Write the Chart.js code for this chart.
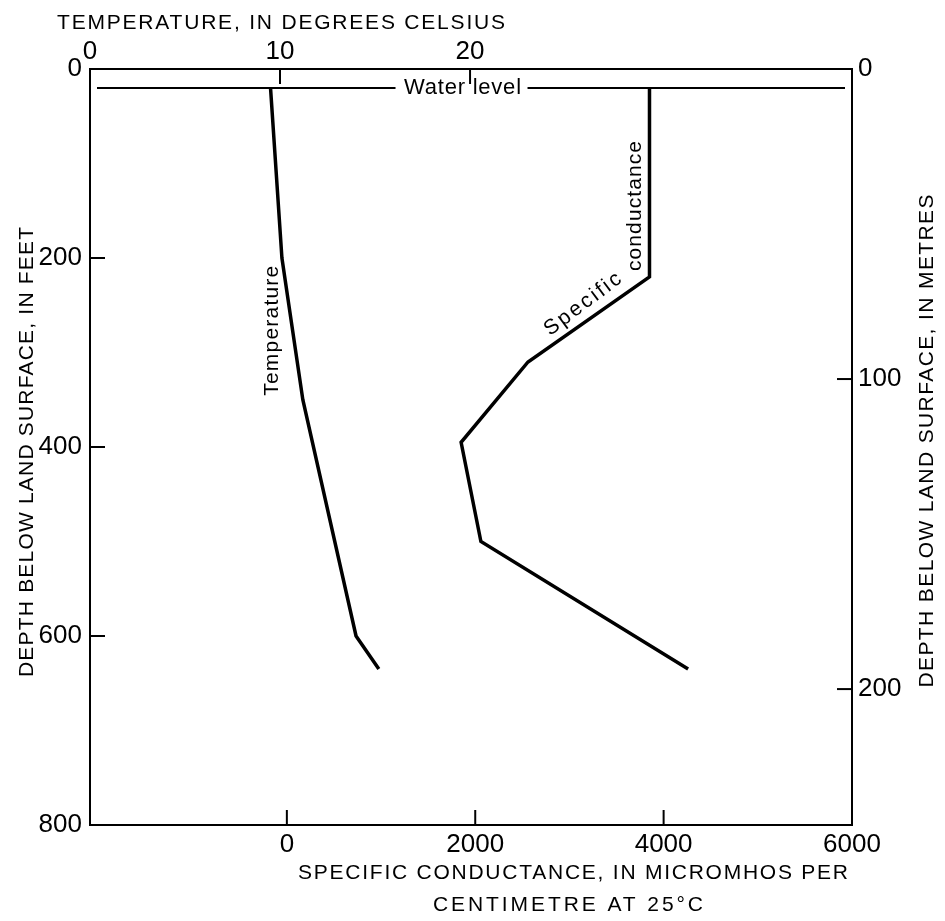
<!DOCTYPE html>
<html>
<head>
<meta charset="utf-8">
<title>Temperature and specific conductance profile</title>
<script src="https://cdn.jsdelivr.net/npm/chart.js@4.4.1/dist/chart.umd.min.js"></script>
<style>
  html, body { margin: 0; padding: 0; background: #fff; }
  #wrap { width: 945px; height: 921px; position: relative; }
</style>
</head>
<body>
<div id="wrap"><canvas id="profileChart"></canvas></div>
<script>
// profile values (depth in feet below land surface)
const tempDepthFt = [20, 200, 350, 600, 635];
const tempCelsius = [9.5, 10.1, 11.2, 14.0, 15.2];
const condDepthFt = [20, 220, 310, 395, 500, 635];
const condMicromhos = [3850, 3850, 2560, 1850, 2060, 4260];
const waterLevelFt = 20;

// tick labels
const feetTicks = [0, 200, 400, 600, 800];
const metreTicks = [0, 100, 200];
const celsiusTicks = [0, 10, 20];
const condTicks = [0, 2000, 4000, 6000];

const FT_TO_M = 0.3048;
const FONT = "'Liberation Sans', Arial, sans-serif";

// text with letter spacing stretched to a given width, centred on x,y
function spacedText(ctx, text, x, y, angle, width, size) {
	ctx.save();
	ctx.translate(x, y);
	ctx.rotate(angle);
	ctx.font = size + 'px ' + FONT;
	ctx.textBaseline = 'middle';
	ctx.textAlign = 'left';
	const natural = ctx.measureText(text).width;
	let sp = 0;
	if ('letterSpacing' in ctx && text.length > 1) {
		sp = (width - natural) / (text.length - 1);
		ctx.letterSpacing = sp + 'px';
	}
	const w = natural + sp * (text.length - 1);
	ctx.fillText(text, -w / 2, 0);
	ctx.restore();
}

// little tick marks pointing into the plot, like the original
function innerTicks(ctx, scale, area, side) {
	const len = 15;
	scale.ticks.forEach(t => {
		const p = scale.getPixelForValue(t.value);
		ctx.beginPath();
		if (side === 'left' || side === 'right') {
			if (p < area.top + 2 || p > area.bottom - 2) return;
			const x0 = side === 'left' ? area.left : area.right - len;
			ctx.moveTo(x0, p);
			ctx.lineTo(x0 + len, p);
		} else {
			if (p < area.left + 2 || p > area.right - 2) return;
			const y0 = side === 'top' ? area.top : area.bottom - len;
			ctx.moveTo(p, y0);
			ctx.lineTo(p, y0 + len);
		}
		ctx.stroke();
	});
}

const profilePlugin = {
	id: 'profileDecor',
	afterDatasetsDraw(chart) {
		const {ctx, chartArea: a, scales} = chart;
		ctx.save();
		ctx.strokeStyle = '#000';
		ctx.fillStyle = '#000';
		ctx.lineWidth = 2;
		innerTicks(ctx, scales.y, a, 'left');
		innerTicks(ctx, scales.y2, a, 'right');
		innerTicks(ctx, scales.x2, a, 'top');
		innerTicks(ctx, scales.x, a, 'bottom');

		// water level line with its label in a gap
		const wy = scales.y.getPixelForValue(waterLevelFt);
		const wx = scales.x.getPixelForValue(1865);
		ctx.beginPath();
		ctx.moveTo(a.left + 7, wy);
		ctx.lineTo(wx - 67, wy);
		ctx.moveTo(wx + 65, wy);
		ctx.lineTo(a.right - 7, wy);
		ctx.stroke();
		spacedText(ctx, 'Water level', wx, wy, 0, 117, 22);

		// curve labels
		spacedText(ctx, 'Temperature', scales.x2.getPixelForValue(9.58), scales.y.getPixelForValue(277), -Math.PI / 2, 130, 21);
		spacedText(ctx, 'Specific', scales.x.getPixelForValue(3143), scales.y.getPixelForValue(249), -0.646, 91, 21);
		spacedText(ctx, 'conductance', scales.x.getPixelForValue(3696), scales.y.getPixelForValue(145), -Math.PI / 2, 130, 21);
		ctx.restore();
	},
	afterDraw(chart) {
		const ctx = chart.ctx;
		ctx.save();
		ctx.fillStyle = '#000';
		spacedText(ctx, 'TEMPERATURE, IN DEGREES CELSIUS', 281, 23, 0, 448, 21);
		spacedText(ctx, 'DEPTH BELOW LAND SURFACE, IN FEET', 27, 452, -Math.PI / 2, 450, 21);
		spacedText(ctx, 'DEPTH BELOW LAND SURFACE, IN METRES', 927, 441, -Math.PI / 2, 493, 21);
		spacedText(ctx, 'SPECIFIC CONDUCTANCE, IN MICROMHOS PER', 573, 873, 0, 550, 21);
		spacedText(ctx, 'CENTIMETRE AT 25\u00B0C', 568, 905, 0, 270, 21);
		ctx.restore();
	}
};

function axisOpts(extra, tickValues, pad) {
	return Object.assign({
		type: 'linear',
		grid: { display: false, drawTicks: false },
		border: { display: true, color: '#000', width: 2 },
		afterBuildTicks: s => { s.ticks = tickValues.map(v => ({ value: v })); },
		ticks: {
			color: '#000',
			padding: pad,
			autoSkip: false,
			maxRotation: 0,
			font: { family: FONT, size: 26 },
			callback: v => String(v)
		}
	}, extra);
}

createChart();

function createChart() {
	const tempPoints = tempDepthFt.map((d, i) => ({ x: tempCelsius[i], y: d }));
	const condPoints = condDepthFt.map((d, i) => ({ x: condMicromhos[i], y: d }));

	const ctx = document.getElementById('profileChart').getContext('2d');
	new Chart(ctx, {
		type: 'scatter',
		data: {
			datasets: [{
				label: 'Temperature',
				data: tempPoints,
				xAxisID: 'x2',
				yAxisID: 'y',
				showLine: true,
				borderColor: '#000',
				borderWidth: 3.5,
				pointRadius: 0,
				fill: false
			}, {
				label: 'Specific conductance',
				data: condPoints,
				xAxisID: 'x',
				yAxisID: 'y',
				showLine: true,
				borderColor: '#000',
				borderWidth: 3.5,
				pointRadius: 0,
				fill: false
			}]
		},
		options: {
			responsive: true,
			maintainAspectRatio: false,
			animation: false,
			events: [],
			layout: { padding: 0 },
			plugins: { legend: { display: false }, tooltip: { enabled: false } },
			scales: {
				x: axisOpts({ position: 'bottom', min: -2090, max: 6000,
					afterFit: s => { s.height = 96; } }, condTicks, 4),
				x2: axisOpts({ position: 'top', min: 0, max: 40.1,
					afterFit: s => { s.height = 69; } }, celsiusTicks, 2),
				y: axisOpts({ position: 'left', reverse: true, min: 0, max: 800,
					afterFit: s => { s.width = 90; } }, feetTicks, 8),
				y2: axisOpts({ position: 'right', reverse: true, min: 0, max: 800 * FT_TO_M,
					afterFit: s => { s.width = 93; } }, metreTicks, 6)
			}
		},
		plugins: [profilePlugin]
	});
}
</script>
</body>
</html>
